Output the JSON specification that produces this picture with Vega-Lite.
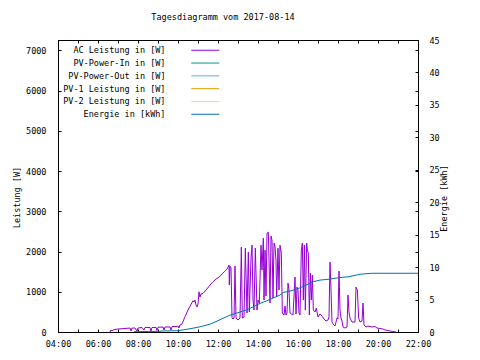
{
  "$schema": "https://vega.github.io/schema/vega-lite/v6.json",
  "width": 360,
  "height": 292,
  "autosize": {"type": "none"},
  "padding": {"left": 58, "top": 40, "right": 62, "bottom": 28},
  "background": "white",
  "title": {"text": "Tagesdiagramm vom 2017-08-14", "font": "DejaVu Sans Mono", "fontSize": 8.5, "fontWeight": "normal", "color": "black", "anchor": "middle", "frame": "group", "dx": -15, "offset": 15},
  "config": {
    "view": {"stroke": "black", "strokeWidth": 1},
    "axis": {"labelFont": "DejaVu Sans Mono", "labelFontSize": 8.5, "labelColor": "black", "titleFont": "DejaVu Sans Mono", "titleFontSize": 8.5, "titleFontWeight": "normal", "titleColor": "black", "domainColor": "black", "tickColor": "black", "grid": false, "labelFlush": false, "labelOverlap": false, "tickSize": -3},
    "legend": {"orient": "none", "legendX": 143, "legendY": 6, "padding": 0, "symbolType": "M-7,0H7", "symbolSize": 16, "symbolStrokeWidth": 1, "labelAlign": "right", "labelOffset": -44, "labelFont": "DejaVu Sans Mono", "labelFontSize": 8.5, "labelColor": "black", "rowPadding": 3.8, "symbolOffset": 0}
  },
  "datasets": {
    "ac": [
      {"m": 396, "w": 0}, {"m": 399, "w": 50}, {"m": 402, "w": 25}, {"m": 405, "w": 50}, {"m": 411, "w": 62}, {"m": 420, "w": 74}, {"m": 441, "w": 87}, {"m": 456, "w": 99}, {"m": 459, "w": 25}, {"m": 462, "w": 99}, {"m": 471, "w": 99}, {"m": 477, "w": 25}, {"m": 480, "w": 99}, {"m": 492, "w": 112}, {"m": 498, "w": 50}, {"m": 501, "w": 112}, {"m": 516, "w": 112}, {"m": 519, "w": 25}, {"m": 522, "w": 112}, {"m": 534, "w": 112}, {"m": 537, "w": 37}, {"m": 540, "w": 117}, {"m": 555, "w": 124}, {"m": 558, "w": 50}, {"m": 561, "w": 124}, {"m": 576, "w": 124}, {"m": 579, "w": 50}, {"m": 582, "w": 137}, {"m": 594, "w": 137}, {"m": 600, "w": 149}, {"m": 603, "w": 99}, {"m": 606, "w": 174}, {"m": 612, "w": 199},
      {"m": 621, "w": 380}, {"m": 630, "w": 546}, {"m": 638, "w": 670}, {"m": 645, "w": 777}, {"m": 648, "w": 745}, {"m": 651, "w": 794}, {"m": 654, "w": 670}, {"m": 657, "w": 620}, {"m": 660, "w": 695}, {"m": 663, "w": 1000}, {"m": 666, "w": 869}, {"m": 669, "w": 943}, {"m": 675, "w": 960}, {"m": 684, "w": 1042}, {"m": 696, "w": 1167}, {"m": 705, "w": 1249}, {"m": 714, "w": 1315}, {"m": 723, "w": 1365}, {"m": 729, "w": 1415}, {"m": 735, "w": 1464}, {"m": 741, "w": 1514}, {"m": 747, "w": 1564}, {"m": 750, "w": 1613}, {"m": 753, "w": 1663}, {"m": 754, "w": 1167}, {"m": 756, "w": 1638}, {"m": 759, "w": 1588},
      {"m": 762, "w": 347}, {"m": 765, "w": 323}, {"m": 768, "w": 347}, {"m": 771, "w": 1638}, {"m": 774, "w": 347}, {"m": 780, "w": 298}, {"m": 786, "w": 347}, {"m": 790, "w": 2110}, {"m": 793, "w": 347}, {"m": 798, "w": 372}, {"m": 802, "w": 2085}, {"m": 807, "w": 472}, {"m": 811, "w": 1986}, {"m": 814, "w": 496}, {"m": 819, "w": 1837}, {"m": 822, "w": 2159}, {"m": 825, "w": 794}, {"m": 828, "w": 546}, {"m": 832, "w": 2085}, {"m": 837, "w": 546}, {"m": 840, "w": 794}, {"m": 844, "w": 720}, {"m": 849, "w": 2159}, {"m": 852, "w": 1539}, {"m": 856, "w": 2333}, {"m": 858, "w": 794}, {"m": 861, "w": 2035}, {"m": 864, "w": 894}, {"m": 867, "w": 2457}, {"m": 871, "w": 2482}, {"m": 873, "w": 1787}, {"m": 876, "w": 720}, {"m": 879, "w": 2383}, {"m": 882, "w": 2283}, {"m": 885, "w": 844}, {"m": 888, "w": 2209}, {"m": 891, "w": 2135}, {"m": 894, "w": 1787}, {"m": 896, "w": 869}, {"m": 900, "w": 2085}, {"m": 903, "w": 1042}, {"m": 906, "w": 2159}, {"m": 910, "w": 1961}, {"m": 913, "w": 472}, {"m": 918, "w": 422}, {"m": 921, "w": 645}, {"m": 924, "w": 422}, {"m": 927, "w": 472}, {"m": 930, "w": 1216}, {"m": 933, "w": 1042}, {"m": 936, "w": 472}, {"m": 940, "w": 447}, {"m": 945, "w": 422}, {"m": 951, "w": 1365}, {"m": 954, "w": 447}, {"m": 957, "w": 1117}, {"m": 960, "w": 1042}, {"m": 963, "w": 472}, {"m": 966, "w": 422}, {"m": 970, "w": 2035}, {"m": 973, "w": 2209}, {"m": 976, "w": 794}, {"m": 979, "w": 2159}, {"m": 982, "w": 546}, {"m": 986, "w": 2209}, {"m": 988, "w": 2035}, {"m": 991, "w": 1961}, {"m": 994, "w": 422}, {"m": 997, "w": 1464}, {"m": 1000, "w": 794}, {"m": 1003, "w": 1415}, {"m": 1006, "w": 546}, {"m": 1011, "w": 496}, {"m": 1015, "w": 596}, {"m": 1020, "w": 372}, {"m": 1026, "w": 447}, {"m": 1032, "w": 397}, {"m": 1038, "w": 323}, {"m": 1044, "w": 273}, {"m": 1050, "w": 298}, {"m": 1053, "w": 372}, {"m": 1056, "w": 1737}, {"m": 1059, "w": 1042}, {"m": 1062, "w": 248}, {"m": 1065, "w": 199}, {"m": 1071, "w": 149}, {"m": 1077, "w": 347}, {"m": 1080, "w": 323}, {"m": 1083, "w": 1514}, {"m": 1086, "w": 546}, {"m": 1089, "w": 347}, {"m": 1092, "w": 273}, {"m": 1095, "w": 124}, {"m": 1101, "w": 99}, {"m": 1107, "w": 124}, {"m": 1110, "w": 918}, {"m": 1113, "w": 496}, {"m": 1116, "w": 347}, {"m": 1122, "w": 248}, {"m": 1131, "w": 248}, {"m": 1134, "w": 1117}, {"m": 1138, "w": 1042}, {"m": 1142, "w": 347}, {"m": 1146, "w": 248}, {"m": 1152, "w": 273}, {"m": 1155, "w": 720}, {"m": 1158, "w": 174}, {"m": 1164, "w": 124}, {"m": 1170, "w": 149}, {"m": 1182, "w": 124}, {"m": 1191, "w": 137}, {"m": 1197, "w": 99}, {"m": 1206, "w": 87}, {"m": 1215, "w": 74}, {"m": 1221, "w": 50}, {"m": 1230, "w": 37}, {"m": 1236, "w": 25}, {"m": 1245, "w": 12}, {"m": 1254, "w": 0}
    ],
    "energie": [
      {"m": 468, "e": 0.05}, {"m": 546, "e": 0.1}, {"m": 549, "e": 0.15}, {"m": 600, "e": 0.2}, {"m": 636, "e": 0.5}, {"m": 666, "e": 0.8}, {"m": 696, "e": 1.2}, {"m": 720, "e": 1.75}, {"m": 756, "e": 2.6}, {"m": 806, "e": 3.4}, {"m": 846, "e": 4.4}, {"m": 866, "e": 4.8}, {"m": 906, "e": 5.7}, {"m": 916, "e": 6.1}, {"m": 936, "e": 6.3}, {"m": 966, "e": 6.8}, {"m": 1006, "e": 7.75}, {"m": 1026, "e": 8.0}, {"m": 1056, "e": 8.15}, {"m": 1086, "e": 8.4}, {"m": 1110, "e": 8.5}, {"m": 1146, "e": 8.9}, {"m": 1181, "e": 9.05}, {"m": 1320, "e": 9.05}
    ]
  },
  "layer": [
    {
      "data": {"name": "ac"},
      "mark": {"type": "line", "strokeWidth": 1, "strokeOpacity": 0},
      "encoding": {
        "x": {"field": "m", "type": "quantitative", "scale": {"domain": [240, 1320], "nice": false}, "axis": null},
        "y": {"field": "w", "type": "quantitative", "scale": {"domain": [0, 7260], "nice": false},
          "axis": {"orient": "right", "title": null, "labels": false, "domain": false, "values": [1000, 2000, 3000, 4000, 5000, 6000, 7000]}}
      }
    },
    {
      "data": {"name": "ac"},
      "mark": {"type": "line", "strokeWidth": 1},
      "encoding": {
        "x": {"field": "m", "type": "quantitative",
          "scale": {"domain": [240, 1320], "nice": false},
          "axis": {"title": null, "values": [240, 300, 360, 420, 480, 540, 600, 660, 720, 780, 840, 900, 960, 1020, 1080, 1140, 1200, 1260, 1320], "labelExpr": "datum.value % 120 == 0 ? (datum.value < 600 ? '0' : '') + floor(datum.value / 60) + ':00' : ''", "labelPadding": 10}},
        "y": {"field": "w", "type": "quantitative", "scale": {"domain": [0, 7260], "nice": false},
          "axis": {"title": "Leistung [W]", "values": [0, 1000, 2000, 3000, 4000, 5000, 6000, 7000], "format": "d", "labelPadding": 15, "titlePadding": 4, "titleY": 157}},
        "color": {"datum": "AC Leistung in [W]", "type": "nominal",
          "scale": {"domain": ["AC Leistung in [W]", "PV-Power-In in [W]", "PV-Power-Out in [W]", "PV-1 Leistung in [W]", "PV-2 Leistung in [W]", "Energie in [kWh]"], "range": ["#9400d3", "#009e73", "#56b4e9", "#e69f00", "#f0e442", "#0072b2"]},
          "legend": {"title": null}}
      }
    },
    {
      "data": {"name": "energie"},
      "mark": {"type": "line", "strokeWidth": 1},
      "encoding": {
        "x": {"field": "m", "type": "quantitative",
          "scale": {"domain": [240, 1320], "nice": false},
          "axis": {"orient": "top", "title": null, "labels": false, "domain": false, "values": [240, 300, 360, 420, 480, 540, 600, 660, 720, 780, 840, 900, 960, 1020, 1080, 1140, 1200, 1260, 1320]}},
        "y": {"field": "e", "type": "quantitative", "scale": {"domain": [0, 45], "nice": false},
          "axis": {"orient": "right", "title": "Energie [kWh]", "titleAngle": 270, "titleBaseline": "top", "values": [0, 5, 10, 15, 20, 25, 30, 35, 40, 45], "labelPadding": 14, "titlePadding": 0, "titleY": 158}},
        "color": {"datum": "Energie in [kWh]", "type": "nominal"}
      }
    }
  ],
  "resolve": {"scale": {"x": "independent", "y": "independent"}, "axis": {"x": "independent", "y": "independent"}}
}
